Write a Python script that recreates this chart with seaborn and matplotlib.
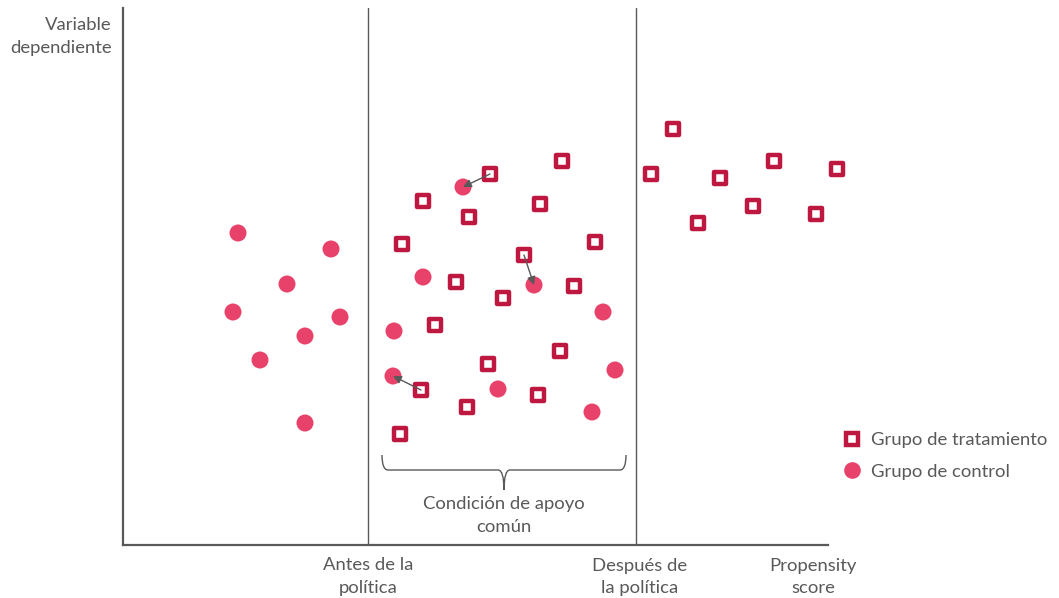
import matplotlib.pyplot as plt
import seaborn as sns
import pandas as pd
import numpy as np
from matplotlib.path import Path as MPath
from matplotlib.patches import PathPatch
from matplotlib.lines import Line2D

# treated units (square markers)
treat_x = [367, 439, 300, 346, 417, 279, 472, 401, 333, 451, 380, 312, 437,
           365, 298, 344, 415, 277, 550, 528, 597, 651, 714, 575, 630, 693]
treat_y = [371, 384, 344, 328, 341, 301, 303, 290, 263, 259, 247, 220, 194,
           181, 155, 138, 150, 111, 416, 371, 367, 384, 376, 322, 339, 331]

# control units (round markers)
ctrl_x = [115, 208, 164, 110, 217, 182, 137, 182, 340, 300, 411, 271, 480,
          270, 375, 492, 469]
ctrl_y = [312, 296, 261, 233, 228, 209, 185, 122, 358, 268, 260, 214, 233,
          169, 156, 175, 133]

# matched pairs (treated index -> control index)
pairs = [(0, 8), (7, 10), (14, 13)]

cut_lo, cut_hi = 245, 513
x_max, y_max = 705, 537

tick_pos = [cut_lo, cut_hi + 4, 690]
tick_labels = ["Antes de la\npolítica", "Después de\nla política", "Propensity\nscore"]

TREAT_COL = "#BE1841"
CTRL_COL = "#E8426B"
GREY = "#595959"
FS = 13.3
LS = 1.5

sns.set_style("white")
plt.rcParams["font.family"] = ["Lato", "DejaVu Sans"]

fig = plt.figure(figsize=(10.59, 5.98), dpi=100)
ax = fig.add_axes([123 / 1059, 53 / 598, 705 / 1059, 537 / 598])

df_t = pd.DataFrame({"x": treat_x, "y": treat_y})
df_c = pd.DataFrame({"x": ctrl_x, "y": ctrl_y})

sns.scatterplot(data=df_c, x="x", y="y", ax=ax, marker="o", s=150,
                color=CTRL_COL, edgecolor="none", linewidth=0, legend=False,
                clip_on=False, zorder=3)
sns.scatterplot(data=df_t, x="x", y="y", ax=ax, marker="s", s=68,
                facecolor="white", edgecolor=TREAT_COL, linewidth=3.2,
                legend=False, clip_on=False, zorder=4)

for ti, ci in pairs:
    ax.annotate("", xy=(ctrl_x[ci], ctrl_y[ci]), xytext=(treat_x[ti], treat_y[ti]),
                arrowprops=dict(arrowstyle="-|>", color=GREY, lw=1,
                                shrinkA=0, shrinkB=0, mutation_scale=12),
                zorder=5)

for xc in (cut_lo, cut_hi):
    ax.axvline(xc, color=GREY, lw=1, zorder=1)

# curly brace under the common-support region
b_lo, b_hi = cut_lo + 14, cut_hi - 10
b_mid = (b_lo + b_hi) / 2
top, mid, tip = 90, 75, 55
verts = [(b_lo, top), (b_lo, mid), (b_lo + 6, mid), (b_lo + 6, mid),
         (b_mid - 6, mid), (b_mid, mid), (b_mid, tip),
         (b_mid, mid), (b_mid + 6, mid), (b_mid + 6, mid),
         (b_hi - 6, mid), (b_hi, mid), (b_hi, top)]
codes = [MPath.MOVETO, MPath.CURVE3, MPath.CURVE3, MPath.LINETO,
         MPath.LINETO, MPath.CURVE3, MPath.CURVE3,
         MPath.CURVE3, MPath.CURVE3, MPath.LINETO,
         MPath.LINETO, MPath.CURVE3, MPath.CURVE3]
ax.add_patch(PathPatch(MPath(verts, codes), fill=False, ec=GREY, lw=1))
ax.text(b_mid, tip - 6, "Condición de apoyo\ncomún", ha="center", va="top",
        color=GREY, fontsize=FS, linespacing=LS)

ax.set_xlim(0, x_max)
ax.set_ylim(0, y_max)
ax.set_xticks(tick_pos, labels=tick_labels)
ax.set_yticks([])
ax.tick_params(axis="x", length=0, pad=9, labelsize=FS, labelcolor=GREY)
for lab in ax.get_xticklabels():
    lab.set_linespacing(LS)
ax.set_xlabel("")
ax.set_ylabel("")
for side in ("top", "right"):
    ax.spines[side].set_visible(False)
for side in ("left", "bottom"):
    ax.spines[side].set_color(GREY)
    ax.spines[side].set_linewidth(1.6)

fig.text(112 / 1059, 1 - 17 / 598, "Variable\ndependiente", ha="right", va="top",
         color=GREY, fontsize=FS, linespacing=LS)

handles = [
    Line2D([], [], ls="none", marker="s", markersize=8.2, markerfacecolor="white",
           markeredgecolor=TREAT_COL, markeredgewidth=3.2, label="Grupo de tratamiento"),
    Line2D([], [], ls="none", marker="o", markersize=12, markerfacecolor=CTRL_COL,
           markeredgecolor="none", label="Grupo de control"),
]
fig.legend(handles=handles, loc="upper left", bbox_to_anchor=(841 / 1059, 1 - 432 / 598),
           frameon=False, fontsize=FS, labelcolor=GREY, handletextpad=0.45,
           labelspacing=0.85, handlelength=1.2, borderaxespad=0, borderpad=0)

fig.savefig("out.png", dpi=100)
